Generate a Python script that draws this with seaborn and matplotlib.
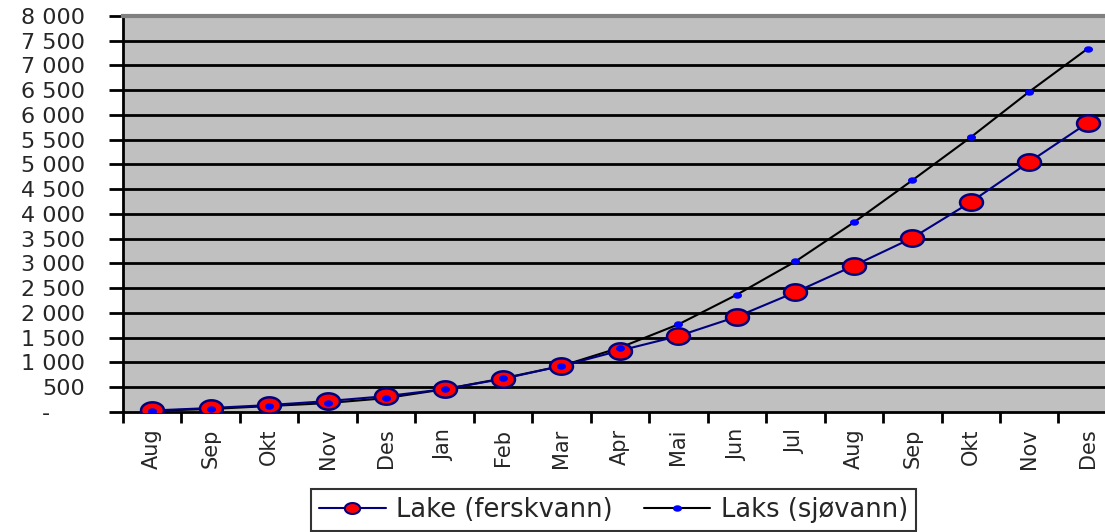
import numpy as np
import pandas as pd
import matplotlib
matplotlib.use('Agg')
import matplotlib.pyplot as plt
import seaborn as sns
from matplotlib.lines import Line2D
from matplotlib.path import Path
from matplotlib.ticker import FixedLocator, FuncFormatter

# months (Aug year 1 -> Des year 2)
months = ['Aug', 'Sep', 'Okt', 'Nov', 'Des', 'Jan', 'Feb', 'Mar', 'Apr',
          'Mai', 'Jun', 'Jul', 'Aug', 'Sep', 'Okt', 'Nov', 'Des']
lake = [30, 80, 140, 220, 320, 460, 670, 930, 1240, 1535, 1925, 2420,
        2955, 3515, 4240, 5050, 5840]
laks = [25, 60, 120, 180, 280, 460, 680, 930, 1300, 1770, 2370, 3040,
        3830, 4680, 5550, 6470, 7340]

df = pd.DataFrame({'x': np.arange(len(months)), 'Lake': lake, 'Laks': laks})

sns.set_style('white')
plt.rcParams['font.family'] = ['DejaVu Sans']

# wide ellipse marker (excel look)
t = np.linspace(0, 2 * np.pi, 60)
ell = Path(np.column_stack([1.4 * np.cos(t), np.sin(t)]), closed=True)

fig = plt.figure(figsize=(11.05, 5.32), dpi=100)
ax = fig.add_axes([0.1113, 0.2256, 0.8995, 0.7444])
ax.set_facecolor('#c0c0c0')

for v in range(500, 8001, 500):
    ax.axhline(v, color='black', lw=2, zorder=1)

# Laks series: black line, small blue markers
sns.lineplot(data=df, x='x', y='Laks', color='black', lw=1.5, zorder=3, ax=ax)
ax.plot(df['x'], df['Laks'], ls='none', marker=ell, markersize=6.5,
        color='blue', markeredgewidth=0, zorder=5)

# Lake series
sns.lineplot(data=df, x='x', y='Lake', color='#000080', lw=1.5, marker=ell,
             markersize=16.5, markerfacecolor='red', markeredgecolor='#000080',
             markeredgewidth=1.8, zorder=4, ax=ax)

ax.set_xlim(-0.5, 16.5)
ax.set_ylim(0, 8000)
ax.set_xlabel('')
ax.set_ylabel('')

ax.yaxis.set_major_locator(FixedLocator(range(0, 8001, 500)))
ax.yaxis.set_major_formatter(FuncFormatter(
    lambda v, p: '-     ' if v == 0 else f'{int(v):,}'.replace(',', ' ')))
ax.tick_params(axis='y', direction='out', length=10, width=2, labelsize=16,
               pad=17, left=True, color='black')

ax.xaxis.set_major_locator(FixedLocator(np.arange(-0.5, 17, 1)))
ax.xaxis.set_major_formatter(FuncFormatter(lambda v, p: ''))
ax.xaxis.set_minor_locator(FixedLocator(df['x']))
ax.set_xticklabels(months, minor=True, rotation=90, fontsize=15)
ax.tick_params(axis='x', which='major', direction='out', length=8, width=2,
               bottom=True, color='black')
ax.tick_params(axis='x', which='minor', length=0, pad=12)

for s in ['left', 'bottom']:
    ax.spines[s].set_color('black')
    ax.spines[s].set_linewidth(2)
ax.spines['top'].set_color('#808080')
ax.spines['top'].set_linewidth(3)
ax.spines['right'].set_visible(False)

handles = [
    Line2D([], [], color='#000080', lw=1.5, marker=ell, markersize=11,
           markerfacecolor='red', markeredgecolor='#000080', markeredgewidth=1.5),
    Line2D([], [], color='black', lw=1.5, marker=ell, markersize=6.5,
           markerfacecolor='blue', markeredgewidth=0),
]
leg = fig.legend(handles, ['Lake (ferskvann)', 'Laks (sjøvann)'], loc='center',
                 bbox_to_anchor=(0.5552, 0.0414), ncol=2, fontsize=18.5,
                 frameon=True, fancybox=False, handlelength=2.6,
                 columnspacing=1.2, handletextpad=0.4, borderpad=0.3,
                 borderaxespad=0)
leg.get_frame().set_edgecolor('black')
leg.get_frame().set_linewidth(1.5)

fig.savefig('out.png', dpi=100)
